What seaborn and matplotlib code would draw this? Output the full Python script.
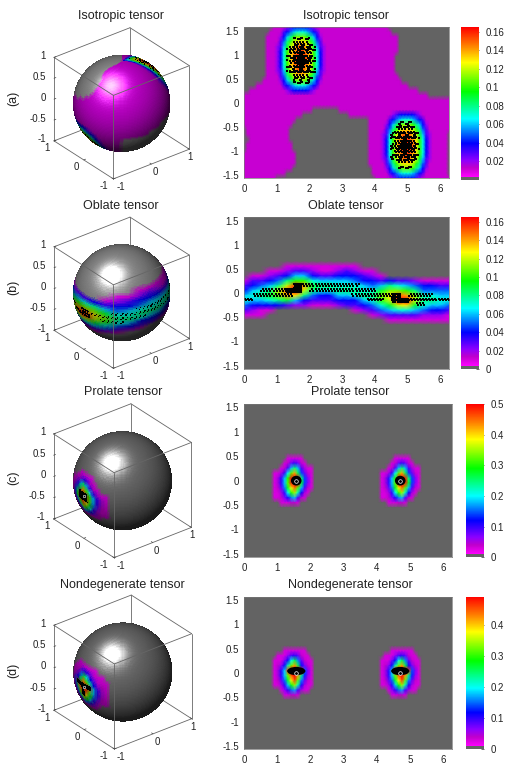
import itertools

import matplotlib
matplotlib.use('Agg')
import matplotlib.pyplot as plt
from matplotlib.colors import LinearSegmentedColormap, Normalize
from matplotlib.patches import Ellipse
from mpl_toolkits.mplot3d import proj3d
import numpy as np
import seaborn as sns

W, H = 514, 772
sns.set_theme(style='white')
plt.rcParams['font.family'] = ['Liberation Sans', 'DejaVu Sans']

# ==============================
# DATA (values in units of 0.01)
# ==============================
panel_titles = ['Isotropic tensor', 'Oblate tensor', 'Prolate tensor', 'Nondegenerate tensor']
panel_tags = ['(a)', '(b)', '(c)', '(d)']
x_ticks = [0, 1, 2, 3, 4, 5, 6]
y_ticks = [1.5, 1, 0.5, 0, -0.5, -1, -1.5]
cbar_ticks = [
    [0.02, 0.04, 0.06, 0.08, 0.1, 0.12, 0.14, 0.16],
    [0, 0.02, 0.04, 0.06, 0.08, 0.1, 0.12, 0.14, 0.16],
    [0, 0.1, 0.2, 0.3, 0.4, 0.5],
    [0, 0.1, 0.2, 0.3, 0.4],
]
vmax = [0.165, 0.165, 0.5, 0.49]
pole_x = [1.57, 4.71]
pole_y = [0.0, 0.0]
core_y = [0, 0, 0.0, 0.04]
core_w = [0, 0, 0.32, 0.55]
core_h = [0, 0, 0.2, 0.17]

# isotropic: one quarter of a density peak, centre outwards
iso_peak = np.array([
    [16, 16, 15, 13, 10, 7, 4, 2],
    [16, 15, 14, 13, 10, 7, 4, 2],
    [15, 15, 13, 12, 9, 6, 3, 2],
    [13, 13, 12, 10, 8, 5, 3, 1],
    [11, 11, 10, 8, 6, 4, 2, 1],
    [7, 7, 6, 5, 4, 3, 1, 1],
    [4, 4, 4, 3, 2, 1, 1, 1],
]) / 100

# isotropic: zero regions per row, y from 1.55 to -1.55
iso_ul_end = [.85, .75, .68, .65, .65, .65, .65, .65, .65, .65, .65, .6, .35, .15, .03, 0,
              0, 0, 0, 0, 0, 0, 0, 0, 0, 0, 0, 0, 0, 0, 0, 0]
iso_ur_start = [4.35, 4.5, 4.65, 4.72, 4.72, 4.65, 4.55, 4.55, 4.55, 4.58, 4.65, 4.8, 5.0, 5.3, 5.6, 6.3,
                6.3, 6.3, 6.3, 6.3, 6.3, 6.3, 6.3, 6.3, 6.3, 6.3, 6.3, 6.3, 6.3, 6.3, 6.3, 6.3]
iso_mid_start = [9, 9, 9, 9, 9, 9, 9, 9, 9, 9, 9, 9, 9, 9, 9, 9,
                 9, 2.1, 1.75, 1.55, 1.48, 1.42, 1.4, 1.4, 1.45, 1.5, 1.55, 1.6, 1.62, 1.52, 1.3, .95]
iso_mid_end = [0, 0, 0, 0, 0, 0, 0, 0, 0, 0, 0, 0, 0, 0, 0, 0,
               0, 2.9, 3.2, 3.8, 3.82, 3.82, 3.82, 3.82, 3.82, 3.82, 3.82, 3.82, 3.82, 3.85, 3.9, 3.95]
iso_ll_end = [0, 0, 0, 0, 0, 0, 0, 0, 0, 0, 0, 0, 0, 0, 0, 0,
              0, 0, 0, 0, 0, .05, .12, .17, .12, .05, 0, 0, 0, 0, 0, 0]
iso_lr_start = [6.3, 6.3, 6.3, 6.3, 6.3, 6.3, 6.3, 6.3, 6.3, 6.3, 6.3, 6.3, 6.3, 6.3, 6.3, 6.3,
                6.3, 6.3, 6.3, 6.3, 6.3, 6.25, 6.2, 6.2, 6.2, 6.2, 6.2, 6.2, 6.2, 6.2, 6.2, 6.28]

# oblate: one line per column (x step 0.25), y from 0.65 to -0.65
oblate_cols = np.array([
    [0, 0, 0, 0, 1, 3, 4, 6, 7, 5, 3, 1, 0, 0],
    [0, 0, 0, 1, 3, 4, 6, 7, 6, 4, 2, 1, 0, 0],
    [0, 0, 0, 1, 3, 5, 7, 8, 6, 4, 1, 1, 0, 0],
    [0, 0, 1, 2, 4, 6, 8, 9, 7, 4, 1, 0, 0, 0],
    [0, 0, 1, 3, 5, 8, 12, 11, 8, 4, 0, 0, 0, 0],
    [0, 1, 2, 4, 8, 12, 15, 14, 9, 3, 0, 0, 0, 0],
    [0, 1, 3, 6, 10, 16, 17, 13, 6, 2, 0, 0, 0, 0],
    [0, 1, 3, 6, 10, 14, 12, 8, 4, 2, 0, 0, 0, 0],
    [0, 1, 2, 4, 7, 9, 8, 5, 3, 1, 0, 0, 0, 0],
    [0, 1, 1, 3, 6, 8, 7, 4, 3, 1, 0, 0, 0, 0],
    [0, 1, 1, 3, 6, 8, 7, 4, 3, 1, 0, 0, 0, 0],
    [0, 1, 2, 4, 6, 7, 8, 6, 4, 2, 0, 0, 0, 0],
    [0, 1, 3, 4, 6, 7, 8, 6, 4, 3, 0, 0, 0, 0],
    [0, 1, 2, 4, 5, 7, 8, 7, 4, 3, 1, 0, 0, 0],
    [0, 0, 1, 3, 4, 6, 7, 8, 6, 4, 2, 0, 0, 0],
    [0, 0, 1, 2, 4, 5, 7, 8, 7, 5, 3, 1, 0, 0],
    [0, 0, 0, 1, 3, 6, 9, 11, 10, 7, 5, 2, 0, 0],
    [0, 0, 0, 0, 4, 8, 11, 13, 12, 9, 6, 3, 1, 0],
    [0, 0, 0, 0, 3, 7, 11, 15, 17, 12, 7, 3, 1, 0],
    [0, 0, 0, 0, 3, 6, 10, 14, 17, 13, 7, 3, 1, 0],
    [0, 0, 0, 0, 2, 5, 8, 11, 12, 9, 6, 3, 1, 0],
    [0, 0, 0, 0, 1, 4, 5, 7, 8, 7, 5, 2, 1, 0],
    [0, 0, 0, 0, 1, 4, 5, 7, 8, 6, 4, 2, 1, 0],
    [0, 0, 0, 0, 1, 3, 5, 6, 7, 6, 4, 2, 1, 0],
    [0, 0, 0, 0, 1, 3, 5, 6, 7, 5, 3, 1, 1, 0],
]) / 100

# prolate and nondegenerate spots, x 1.0 to 2.1, y 0.45 to -0.45
prolate_spot = np.array([
    [0, 0, 0, 0, 3, 3, 3, 3, 3, 0, 0, 0],
    [0, 0, 0, 3, 4, 8, 10, 8, 4, 3, 0, 0],
    [0, 0, 3, 4, 9, 18, 25, 18, 9, 5, 3, 3],
    [3, 3, 5, 10, 20, 32, 42, 26, 14, 8, 4, 3],
    [3, 5, 10, 18, 30, 49, 50, 49, 25, 14, 7, 3],
    [3, 5, 10, 18, 32, 49, 50, 49, 28, 14, 7, 3],
    [3, 4, 8, 16, 28, 38, 45, 32, 18, 9, 4, 3],
    [3, 3, 5, 10, 20, 30, 35, 22, 12, 5, 3, 0],
    [3, 3, 4, 7, 11, 16, 18, 9, 4, 3, 0, 0],
    [0, 0, 3, 3, 3, 4, 4, 3, 0, 0, 0, 0],
]) / 100

nondeg_spot = np.array([
    [0, 0, 0, 3, 3, 3, 3, 3, 3, 3, 0, 0],
    [0, 3, 3, 3, 6, 9, 10, 8, 4, 3, 3, 0],
    [3, 3, 3, 7, 12, 20, 26, 16, 8, 4, 3, 3],
    [3, 4, 6, 12, 22, 32, 42, 26, 12, 7, 4, 3],
    [3, 5, 10, 18, 46, 49, 49, 49, 46, 14, 7, 3],
    [3, 5, 10, 18, 32, 45, 49, 42, 24, 13, 6, 3],
    [3, 4, 8, 15, 27, 38, 46, 32, 16, 8, 4, 3],
    [3, 3, 5, 10, 18, 28, 34, 22, 11, 5, 3, 3],
    [0, 0, 3, 6, 10, 15, 17, 9, 5, 3, 3, 0],
    [0, 0, 0, 3, 3, 4, 4, 3, 0, 0, 0, 0],
]) / 100

# ==============================
# BUILD THE GRIDS
# ==============================
n_rows, n_cols = 32, 63


def iso_zero(xc, r):
    zero = (xc < iso_ul_end[r]) | (xc > iso_ur_start[r]) | (xc < iso_ll_end[r]) | (xc > iso_lr_start[r])
    return zero | ((xc > iso_mid_start[r]) & (xc < iso_mid_end[r]))


# isotropic
half = np.hstack([iso_peak[:, :0:-1], iso_peak])
peak = np.vstack([half[::-1], half])
iso = np.full((n_rows, n_cols), 0.012)
iso[0:14, 10:25] = np.maximum(iso[0:14, 10:25], peak)
iso[18:32, 42:57] = np.maximum(iso[18:32, 42:57], peak)
iso_full = iso.copy()
xc = (np.arange(n_cols) + 0.5) * 2 * np.pi / n_cols
for r in range(n_rows):
    iso[r, iso_zero(xc, r)] = 0

# oblate
oblate = np.zeros((n_rows, oblate_cols.shape[0]))
oblate[9:23, :] = oblate_cols.T


def spots(spot):
    g = np.zeros((n_rows, n_cols))
    g[11:21, 9:21] = spot
    g[11:21, 41:53] = spot
    return g


prolate = spots(prolate_spot)
nondeg = spots(nondeg_spot)
grids = [iso, oblate, prolate, nondeg]
repeats = [(3, 3), (3, 8), (3, 3), (3, 3)]


def stipple(g, step=2):
    # fixed stipple pattern, without the straight rows of a plain checkerboard
    ii, jj = np.indices(g.shape)
    return (ii * ii + 3 * jj * jj + ii * jj + jj) % step == 0


# finer copies of each grid, for the sample points and the sphere faces
fine = [np.kron(g, np.ones(k)) for g, k in zip(grids, repeats)]
fine[0] = np.kron(iso_full, np.ones(repeats[0]))
xf = (np.arange(fine[0].shape[1]) + 0.5) * 2 * np.pi / fine[0].shape[1]
for r in range(n_rows):
    fine[0][3 * r:3 * r + 3, iso_zero(xf, r)] = 0

# black overplotted sample points
ridge = np.kron((oblate >= oblate.max(axis=0) - 0.01) & (oblate > 0), np.ones(repeats[1])).astype(bool)
blacks = [
    ((fine[0] >= 0.155) & stipple(fine[0], 2)) | ((fine[0] >= 0.12) & stipple(fine[0], 3)) | ((fine[0] >= 0.09) & stipple(fine[0], 7)),
    ((fine[1] >= 0.15) & stipple(fine[1], 2)) | (ridge & stipple(fine[1], 3)),
    fine[2] >= 0.49,
    fine[3] >= 0.46,
]

tensor_cmap = LinearSegmentedColormap.from_list('tensor', [
    (0, (0.39, 0.39, 0.39)), (0.02, (0.39, 0.39, 0.39)), (0.0201, (1, 0, 1)), (0.08, (0.75, 0, 0.8)),
    (0.13, (0.55, 0, 1)), (0.24, (0, 0, 1)), (0.40, (0, 1, 1)), (0.58, (0, 1, 0)),
    (0.77, (1, 1, 0)), (0.88, (1, 0.5, 0)), (1, (1, 0, 0))], N=512)

# ==============================
# PIXEL LAYOUT
# ==============================
map_boxes = [(244.3, 27.3, 449.3, 178.3), (244.3, 217.3, 449.3, 369), (244.3, 404, 452.3, 557.3), (244.3, 596.7, 452.3, 749.3)]
bar_boxes = [(461, 27.3, 479, 180), (461, 217.3, 479, 369), (465.7, 404, 483.7, 557.3), (465.7, 596.7, 483.7, 749.3)]
sphere_centres = [(121.7, 103.3), (121.7, 292.7), (122.5, 480.7), (122.8, 672)]
z_spans = [83.5, 83.5, 85, 85]
sphere_gray = [0.55, 0.55, 0.43, 0.43]
left_title_pos = [(121, 15.7), (121, 205.7), (123, 392), (122, 585)]
right_title_pos = [(346, 15.7), (346, 205.7), (350, 392), (350, 585)]
tag_pos = [(13, 98), (13, 287), (13, 478), (13, 670)]


def add_box(box, **kw):
    l, t, r, b = box
    return plt.gcf().add_axes([l / W, 1 - b / H, (r - l) / W, (b - t) / H], **kw)


def to_px(ax, x, y, z):
    X, Y, _ = proj3d.proj_transform(x, y, z, ax.get_proj())
    return ax.transData.transform((X, Y))


def draw_map(i):
    g = grids[i]
    ax = add_box(map_boxes[i])
    cax = add_box(bar_boxes[i])
    # gouraud shading puts the grid values on the vertices, so the axes run to n-1
    sns.heatmap(g, ax=ax, cbar_ax=cax, cmap=tensor_cmap, vmin=0, vmax=vmax[i], xticklabels=False,
                yticklabels=False, cbar_kws={'ticks': cbar_ticks[i]}, shading='gouraud')
    rows, cols = g.shape
    sx = (cols - 1) / (2 * np.pi)
    sy = (rows - 1) / np.pi
    ymid = (rows - 1) / 2
    if i < 2:
        ii, jj = np.nonzero(blacks[i])
        frows, fcols = blacks[i].shape
        ax.scatter((jj + 0.5) / fcols * (cols - 1), (ii + 0.5) / frows * (rows - 1), s=0.9, c='black', marker='s', linewidths=0)
    else:
        for v in pole_x:
            ax.add_patch(Ellipse((v * sx, ymid - core_y[i] * sy), core_w[i] * sx, core_h[i] * sy, fc='black', ec='none'))
        ax.plot([v * sx for v in pole_x], [ymid - v * sy for v in pole_y], ls='none', marker='o', ms=2.6,
                mfc='none', mec='white', mew=0.5)
    ax.set_xlim(0, cols - 1)
    ax.set_ylim(rows - 1, 0)
    ax.set_xticks([v * sx for v in x_ticks])
    ax.set_xticklabels([str(v) for v in x_ticks], rotation=0)
    ax.set_yticks([ymid - v * sy for v in y_ticks])
    ax.set_yticklabels([f'{v:g}' for v in y_ticks], rotation=0)
    ax.tick_params(length=2, width=0.5, labelsize=7, direction='in', color='#333333', pad=4, labelcolor='#222222')
    for s in ax.spines.values():
        s.set_visible(True)
        s.set_linewidth(0.5)
        s.set_color('#777777')
    cax.set_yticks(cbar_ticks[i])
    cax.set_yticklabels([f'{v:g}' for v in cbar_ticks[i]])
    cax.tick_params(length=2, width=0.5, labelsize=7, direction='in', color='#333333', pad=5, labelcolor='#222222')


def draw_sphere(i):
    cx, cy = sphere_centres[i]
    size = 200
    ax = plt.gcf().add_axes([(cx - size / 2) / W, 1 - (cy + size / 2) / H, size / W, size / H],
                            projection='3d', computed_zorder=False)
    ax.set_proj_type('ortho')
    az, el = np.radians(-128), np.radians(30)
    ax.view_init(elev=30, azim=-128)
    ax.set_xlim(-1, 1)
    ax.set_ylim(-1, 1)
    ax.set_zlim(-1, 1)
    ax.set_box_aspect((1, 1, 1))
    ax.set_axis_off()
    ax.patch.set_visible(False)
    d = to_px(ax, -1, -1, 1) - to_px(ax, -1, -1, -1)
    ax.set_box_aspect((1, 1, 1), zoom=z_spans[i] / np.hypot(*d))
    # slide the axes so the sphere centre lands on its pixel
    p = to_px(ax, 0, 0, 0)
    pos = ax.get_position()
    ax.set_position([pos.x0 + (cx - p[0]) / W, pos.y0 + (H - cy - p[1]) / H, pos.width, pos.height])

    g = fine[i]
    rows, cols = g.shape
    lon = np.pi / 2 - np.linspace(0, 2 * np.pi, cols + 1)
    lat = np.linspace(np.pi / 2, -np.pi / 2, rows + 1)
    LON, LAT = np.meshgrid(lon, lat)
    X, Y, Z = np.cos(LAT) * np.cos(LON), np.cos(LAT) * np.sin(LON), np.sin(LAT)

    # face colours from the map, softened like the shaded map, then lit from above the viewer
    col = tensor_cmap(Normalize(0, vmax[i])(g))
    col[g == 0] = (sphere_gray[i], sphere_gray[i], sphere_gray[i], 1)
    for axis, k in enumerate(repeats[i]):
        col = np.mean([np.roll(col, s, axis=axis) for s in range(-(k // 2), k // 2 + 1)], axis=0)
    col[blacks[i]] = (0, 0, 0, 1)
    lonc, latc = np.meshgrid((lon[:-1] + lon[1:]) / 2, (lat[:-1] + lat[1:]) / 2)
    nx, ny, nz = np.cos(latc) * np.cos(lonc), np.cos(latc) * np.sin(lonc), np.sin(latc)
    view = np.array([np.cos(el) * np.cos(az), np.cos(el) * np.sin(az), np.sin(el)])
    right = np.array([-np.sin(az), np.cos(az), 0])
    up = np.cross(view, right) * -1
    if up[2] < 0:
        up = -up
    light = -0.21 * right + 0.35 * up + 0.91 * view
    ndl = np.clip(nx * light[0] + ny * light[1] + nz * light[2], 0, 1)
    lit = 0.25 + 0.75 * ndl
    spec = 0.9 * ndl ** 30
    col[..., :3] = np.clip(col[..., :3] * lit[..., None] + spec[..., None], 0, 1)
    col[..., 3] = 1

    corners = list(itertools.product([-1, 1], repeat=3))
    pairs = [(a, b) for a, b in itertools.combinations(corners, 2) if sum(p != q for p, q in zip(a, b)) == 1]
    for a, b in pairs:
        depth = np.dot((np.array(a) + np.array(b)) / 2, view)
        ax.plot(*zip(a, b), color='#666666', lw=0.6, zorder=3 if depth > 0 else 1)
    ax.plot_surface(X, Y, Z, facecolors=col, rstride=1, cstride=1, shade=False, linewidth=0, antialiased=False, zorder=2)
    if i >= 2:
        ax.plot([np.cos(np.pi / 2 - pole_x[1])], [np.sin(np.pi / 2 - pole_x[1])], [pole_y[1]], ls='none',
                marker='o', ms=1.8, mfc='none', mec='white', mew=0.4, zorder=4)

    # tick marks and labels on the three outer edges
    for v in [-1, 0, 1]:
        ax.plot([v, v], [-1, -0.95], [-1, -1], color='#444444', lw=0.5, zorder=3)
        ax.plot([-1, -0.95], [v, v], [-1, -1], color='#444444', lw=0.5, zorder=3)
        px, py = to_px(ax, v, -1, -1)
        fig.text((px + 4 - 3 * v) / W, (py - 8) / H, f'{v:g}', fontsize=7, ha='center', va='center', color='#222222')
        px, py = to_px(ax, -1, v, -1)
        fig.text((px - (10 if v == -1 else 7)) / W, (py - 7.5) / H, f'{v:g}', fontsize=7, ha='center', va='center', color='#222222')
    for v in [-1, -0.5, 0, 0.5, 1]:
        ax.plot([-1, -0.95], [1, 1], [v, v], color='#444444', lw=0.5, zorder=3)
        px, py = to_px(ax, -1, 1, v)
        fig.text((px - 8) / W, (py + 1.5) / H, f'{v:g}', fontsize=7, ha='right', va='center', color='#222222')


# ==============================
# FIGURE
# ==============================
fig = plt.figure(figsize=(W / 100, H / 100), dpi=100)
for i in range(4):
    draw_sphere(i)
    draw_map(i)
    fig.text(left_title_pos[i][0] / W, 1 - left_title_pos[i][1] / H, panel_titles[i], fontsize=9, ha='center', va='center', color='#222222')
    fig.text(right_title_pos[i][0] / W, 1 - right_title_pos[i][1] / H, panel_titles[i], fontsize=9, ha='center', va='center', color='#222222')
    fig.text(tag_pos[i][0] / W, 1 - tag_pos[i][1] / H, panel_tags[i], fontsize=9, rotation=90, ha='center', va='center', color='#222222')

fig.savefig('out.png', dpi=100)
